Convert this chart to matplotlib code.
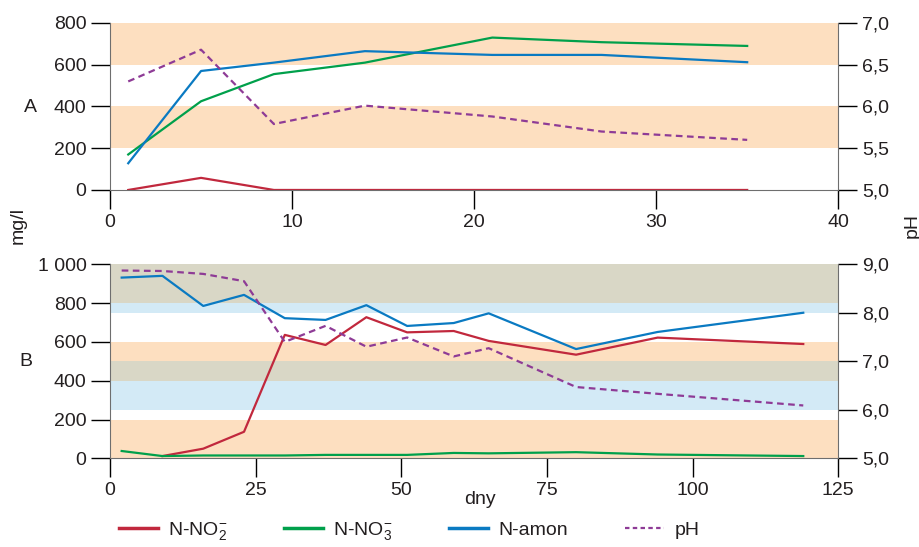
import numpy as np
import matplotlib
matplotlib.use('Agg')
import matplotlib.pyplot as plt

plt.rcParams['font.family'] = ['Liberation Sans', 'DejaVu Sans']
plt.rcParams['mathtext.default'] = 'regular'

# --- data, panel A ---
dnyA = [1, 5, 9, 14, 21, 27, 35]
no2A = [0, 58, 0, 0, 0, 0, 0]
no3A = [170, 425, 555, 610, 730, 708, 690]
amonA = [128, 570, 610, 665, 647, 647, 612]
phA = [6.30, 6.68, 5.79, 6.01, 5.88, 5.70, 5.60]

# --- data, panel B ---
dnyB = [2, 9, 16, 23, 30, 37, 44, 51, 59, 65, 80, 94, 119]
no2B_dny = [9, 16, 23, 30, 37, 44, 51, 59, 65, 80, 94, 119]
no2B = [12, 50, 137, 636, 584, 727, 649, 656, 605, 534, 622, 589]
no3B = [38, 12, 15, 15, 15, 18, 18, 18, 28, 26, 32, 20, 12]
amonB = [931, 940, 785, 842, 722, 713, 789, 682, 697, 747, 563, 651, 750]
phB = [8.87, 8.86, 8.80, 8.65, 7.40, 7.73, 7.30, 7.49, 7.10, 7.27, 6.47, 6.33, 6.09]

# pasma v pozadi (jednotky leve osy) a barvy
orange = '#FDDFC0'
grey = '#D9D7C6'
lblue = '#D3EAF6'
bandsA = [(200, 400, orange), (600, 800, orange)]
bandsB = [(0, 200, orange), (250, 400, lblue), (400, 500, grey),
          (500, 600, orange), (750, 800, lblue), (800, 1000, grey)]

c_no2 = '#C1283D'
c_no3 = '#00A04B'
c_amon = '#0A7AC2'
c_ph = '#8E3B96'
txt = '#231F20'
spine = '#6E6E6E'
fs = 14

fig = plt.figure(figsize=(9.2, 5.47), dpi=100)
axA = fig.add_axes([0.1196, 0.6527, 0.7915, 0.3053])
axB = fig.add_axes([0.1196, 0.162, 0.7915, 0.355])


def style(ax, ax2):
    for a in (ax, ax2):
        a.spines['top'].set_visible(False)
        a.tick_params(length=14, width=1, color='black', labelsize=fs,
                      labelcolor=txt, pad=3)
    ax.spines['right'].set_visible(False)
    ax2.spines['left'].set_visible(False)
    ax2.spines['bottom'].set_visible(False)
    ax.spines['left'].set_color(spine)
    ax.spines['bottom'].set_color(spine)
    ax2.spines['right'].set_color(spine)


# panel A
for lo, hi, c in bandsA:
    axA.axhspan(lo, hi, color=c, lw=0, zorder=0)
axA.plot(dnyA, no2A, color=c_no2, lw=1.6)
axA.plot(dnyA, no3A, color=c_no3, lw=1.6)
axA.plot(dnyA, amonA, color=c_amon, lw=1.6)
axA.set_xlim(0, 40)
axA.set_ylim(0, 800)
axA.set_xticks([0, 10, 20, 30, 40])
axA.set_yticks([0, 200, 400, 600, 800])
axA2 = axA.twinx()
axA2.plot(dnyA, phA, color=c_ph, lw=1.6, ls=(0, (3, 2)))
axA2.set_ylim(5, 7)
axA2.set_yticks([5, 5.5, 6, 6.5, 7])
axA2.set_yticklabels(['5,0', '5,5', '6,0', '6,5', '7,0'])
style(axA, axA2)

# panel B
for lo, hi, c in bandsB:
    axB.axhspan(lo, hi, color=c, lw=0, zorder=0)
axB.plot(no2B_dny, no2B, color=c_no2, lw=1.6)
axB.plot(dnyB, no3B, color=c_no3, lw=1.6)
axB.plot(dnyB, amonB, color=c_amon, lw=1.6)
axB.set_xlim(0, 125)
axB.set_ylim(0, 1000)
axB.set_xticks([0, 25, 50, 75, 100, 125])
axB.set_yticks([0, 200, 400, 600, 800, 1000])
axB.set_yticklabels(['0', '200', '400', '600', '800', '1 000'])
axB2 = axB.twinx()
axB2.plot(dnyB, phB, color=c_ph, lw=1.6, ls=(0, (3, 2)))
axB2.set_ylim(5, 9)
axB2.set_yticks([5, 6, 7, 8, 9])
axB2.set_yticklabels(['5,0', '6,0', '7,0', '8,0', '9,0'])
style(axB, axB2)

# popisky
fig.text(30 / 920, 1 - 107 / 547, 'A', fontsize=fs, color=txt, ha='center', va='center')
fig.text(26 / 920, 1 - 362 / 547, 'B', fontsize=fs, color=txt, ha='center', va='center')
fig.text(18 / 920, 1 - 225 / 547, 'mg/l', fontsize=fs, color=txt, rotation=90,
         ha='center', va='center')
fig.text(912 / 920, 1 - 225 / 547, 'pH', fontsize=fs, color=txt, rotation=90,
         ha='center', va='center')
fig.text(480 / 920, 1 - 500 / 547, 'dny', fontsize=fs, color=txt, ha='center', va='center')

# legenda
handles = [plt.Line2D([], [], color=c_no2, lw=2.5),
           plt.Line2D([], [], color=c_no3, lw=2.5),
           plt.Line2D([], [], color=c_amon, lw=2.5),
           plt.Line2D([], [], color=c_ph, lw=1.6, ls=(0, (2, 1.5)))]
labels = ['N-NO$_2^{-}$', 'N-NO$_3^{-}$', 'N-amon', 'pH']
fig.legend(handles, labels, loc='center', bbox_to_anchor=(409 / 920, 1 - 531 / 547),
           ncol=4, frameon=False, fontsize=fs, handlelength=2.0, columnspacing=2.9,
           handletextpad=0.55, labelcolor=txt)

fig.savefig('out.png', dpi=100)
